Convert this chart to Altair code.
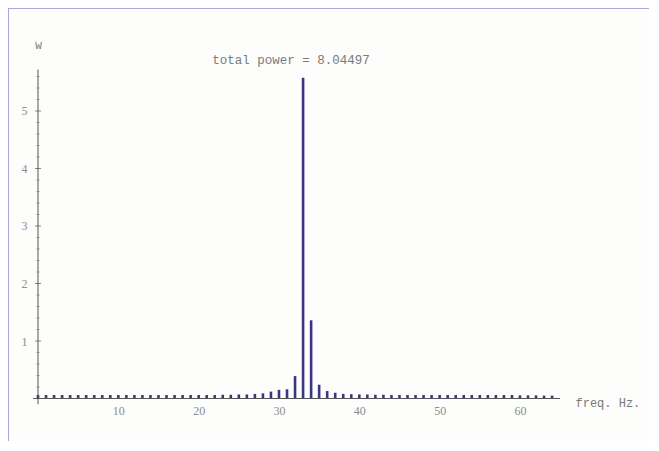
import altair as alt
import pandas as pd

# ---- data ----
freqs = list(range(0, 65))
power = [0.06, 0.06, 0.06, 0.06, 0.06, 0.06, 0.06, 0.06, 0.06, 0.06,
         0.06, 0.06, 0.06, 0.06, 0.06, 0.06, 0.06, 0.06, 0.06, 0.06,
         0.06, 0.06, 0.06, 0.065, 0.065, 0.07, 0.07, 0.08, 0.09, 0.12,
         0.15, 0.16, 0.39, 5.58, 1.36, 0.24, 0.13, 0.10, 0.08, 0.075,
         0.07, 0.07, 0.065, 0.065, 0.06, 0.06, 0.06, 0.06, 0.06, 0.06,
         0.06, 0.06, 0.06, 0.06, 0.06, 0.06, 0.06, 0.06, 0.06, 0.06,
         0.055, 0.055, 0.055, 0.05, 0.05]
x_tick_values = [10, 20, 30, 40, 50, 60]
y_major = [1, 2, 3, 4, 5]
y_minor = [0.2, 0.4, 0.6, 0.8, 1.2, 1.4, 1.6, 1.8, 2.2, 2.4, 2.6, 2.8,
           3.2, 3.4, 3.6, 3.8, 4.2, 4.4, 4.6, 4.8, 5.2, 5.4, 5.6]
title_text = "total power = 8.04497"
x_title = "freq. Hz."
y_title = "W"

W, H = 641, 433
BAR = "#3b3483"
GREY = "#7a7a7a"
LGREY = "#8c8c8c"
FRAME = "#aaa6d8"
MONO = "Liberation Mono"

xs = alt.Scale(domain=[-3.113, 75.44], nice=False, zero=False)
ys = alt.Scale(domain=[-0.739, 6.791], nice=False, zero=False)

bars_df = pd.DataFrame({"freq": freqs, "power": power, "base": [0.0] * len(freqs)})

bars = alt.Chart(bars_df).mark_bar(width=2.6, color=BAR).encode(
    x=alt.X("freq:Q", scale=xs,
            axis=alt.Axis(values=x_tick_values, offset=-42.5, domain=False, ticks=False,
                          grid=False, labelFont="Liberation Serif", labelFontSize=12,
                          labelColor=LGREY, labelPadding=7, format="d",
                          title=x_title, titleFont=MONO, titleFontSize=12,
                          titleFontWeight="normal", titleColor=GREY,
                          titleX=567, titleY=4, titleAlign="left",
                          titleBaseline="middle", titleAnchor="start")),
    y=alt.Y("power:Q", scale=ys,
            axis=alt.Axis(values=y_major, offset=-25, domain=False, ticks=False,
                          grid=False, labelFont="Liberation Serif", labelFontSize=12,
                          labelColor=LGREY, labelPadding=6, format="d",
                          title=y_title, titleFont=MONO, titleFontSize=11,
                          titleFontWeight="normal", titleColor=GREY, titleAngle=0,
                          titleX=5, titleY=37, titleAlign="center",
                          titleBaseline="middle")),
    y2="base:Q",
)

xline = alt.Chart(pd.DataFrame({"a": [-0.6], "b": [65.0], "y": [0.0]})).mark_rule(
    color="#555555", strokeWidth=1).encode(
    x=alt.X("a:Q", scale=xs), x2="b:Q", y=alt.Y("y:Q", scale=ys))

yline = alt.Chart(pd.DataFrame({"x": [0.0], "a": [-0.1], "b": [5.72]})).mark_rule(
    color="#555555", strokeWidth=1).encode(
    x=alt.X("x:Q", scale=xs), y=alt.Y("a:Q", scale=ys), y2="b:Q")

major_ticks = alt.Chart(pd.DataFrame({"v": y_major, "x": [0.0] * len(y_major)})).mark_tick(
    color="#555555", size=6, thickness=1, orient="horizontal").encode(
    x=alt.X("x:Q", scale=xs), y=alt.Y("v:Q", scale=ys))

minor_ticks = alt.Chart(pd.DataFrame({"v": y_minor, "x": [0.0] * len(y_minor)})).mark_tick(
    color="#777777", size=3, thickness=1, orient="horizontal").encode(
    x=alt.X("x:Q", scale=xs), y=alt.Y("v:Q", scale=ys))

title = alt.Chart(pd.DataFrame({"t": [title_text]})).mark_text(
    font=MONO, fontSize=12.5, color=GREY, align="center", baseline="middle").encode(
    x=alt.value(283), y=alt.value(52), text="t:N")

frame_top = alt.Chart(pd.DataFrame({"k": [0]})).mark_rule(color=FRAME, strokeWidth=2).encode(
    x=alt.value(0), x2=alt.value(W), y=alt.value(0))
frame_left = alt.Chart(pd.DataFrame({"k": [0]})).mark_rule(color=FRAME, strokeWidth=2).encode(
    x=alt.value(0), y=alt.value(0), y2=alt.value(H))

chart = alt.layer(frame_top, frame_left, yline, minor_ticks, major_ticks, bars, xline, title).properties(
    width=W, height=H, padding=0,
    autosize=alt.AutoSizeParams(type="none"),
    background="#fdfdfb",
).configure_view(stroke=None)

chart.save("out.html", embed_options={"renderer": "svg", "actions": False})
